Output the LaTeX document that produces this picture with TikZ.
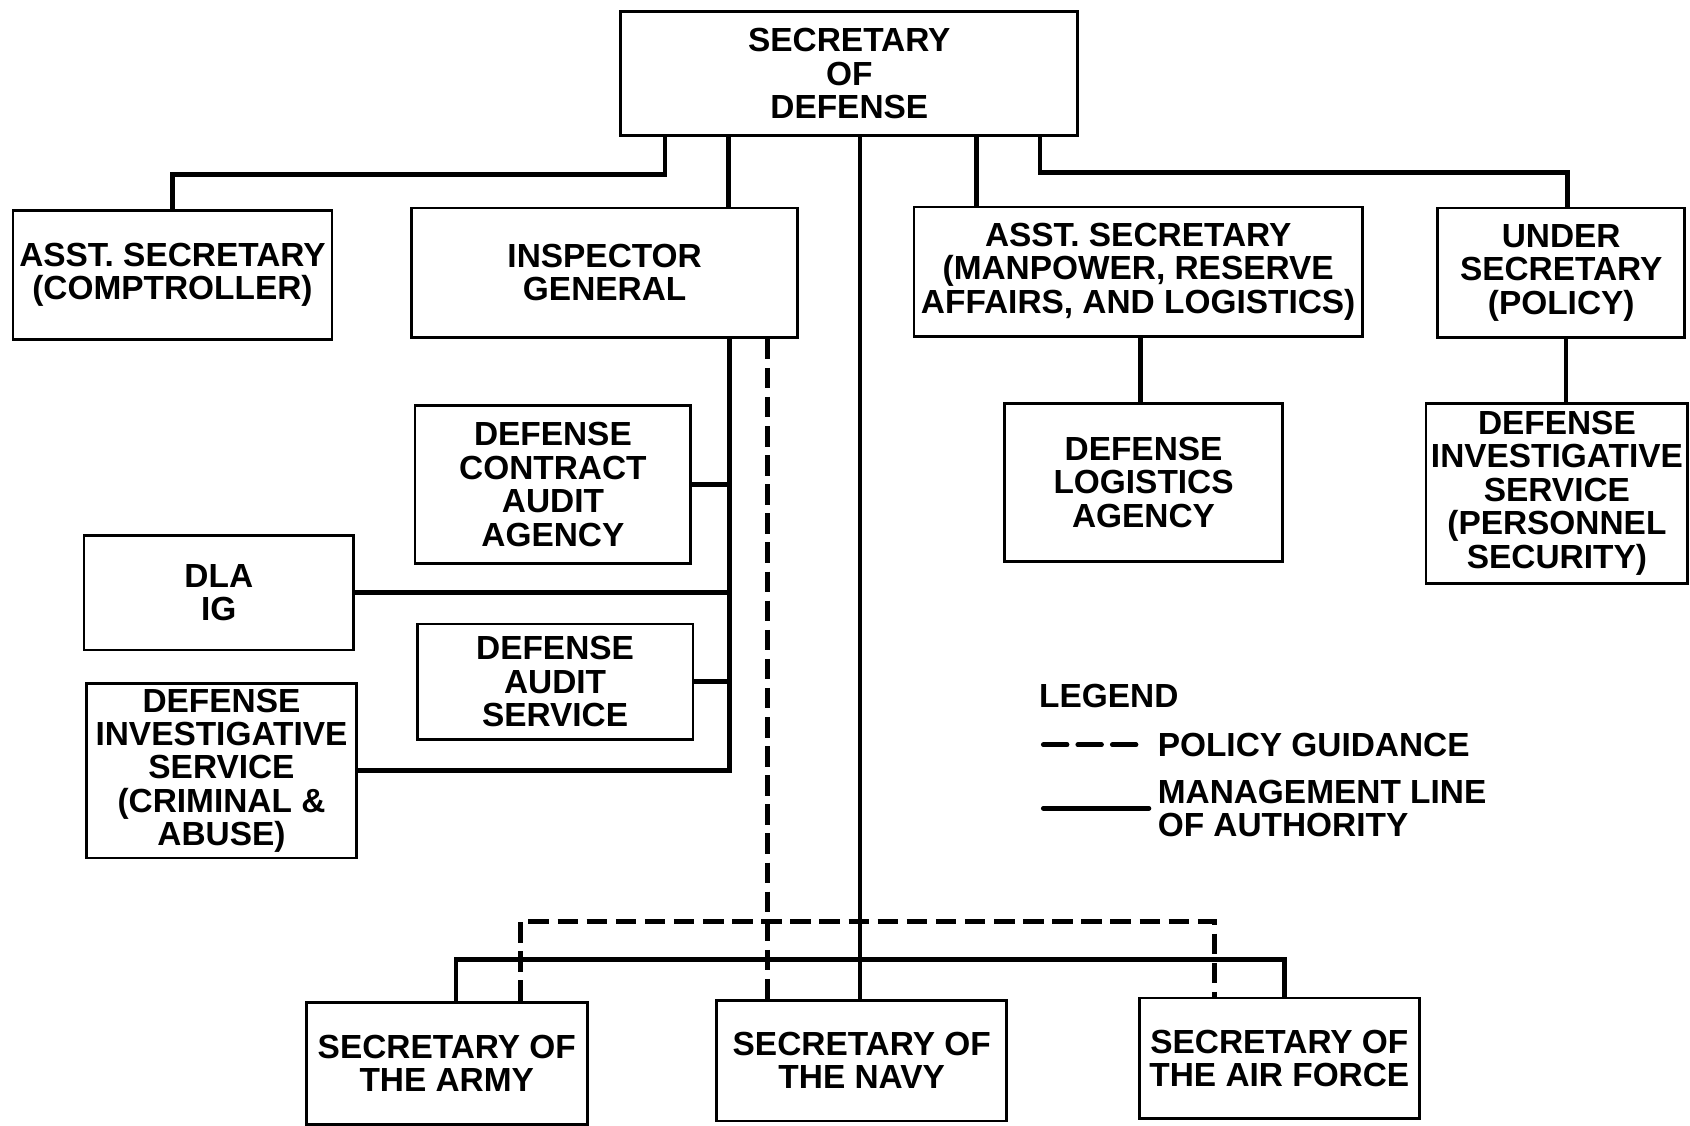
\documentclass[tikz,border=0pt]{standalone}
\usepackage{fontspec}
\setmainfont{Liberation Sans}
\begin{document}
\begin{tikzpicture}[x=1pt,y=-1pt,
  box/.style={draw, line width=2.6pt, inner sep=0pt, align=center, rectangle,
    font=\fontsize{31}{31}\selectfont\bfseries},
  mgmt/.style={line width=4.4pt},
  policy/.style={line width=4.4pt, dash pattern=on 19pt off 8pt},
  legtext/.style={inner sep=0pt, align=left, font=\fontsize{31}{31}\selectfont\bfseries}]
\useasboundingbox (0,0) rectangle (1568,1044);

% boxes
\node[box, minimum width=424pt, minimum height=115pt] (sd) at (788,68.5) {SECRETARY\\OF\\DEFENSE};
\node[box, minimum width=296pt, minimum height=120pt] (comp) at (160,255) {ASST. SECRETARY\\(COMPTROLLER)};
\node[box, minimum width=358pt, minimum height=120pt] (ig) at (561,253) {INSPECTOR\\GENERAL};
\node[box, minimum width=416pt, minimum height=120pt] (mral) at (1056,252) {ASST. SECRETARY\\(MANPOWER, RESERVE\\AFFAIRS, AND LOGISTICS)};
\node[box, minimum width=229pt, minimum height=120pt] (usec) at (1448.5,253) {UNDER\\SECRETARY\\(POLICY)};
\node[box, minimum width=256pt, minimum height=147pt] (dcaa) at (513,449.5) {DEFENSE\\CONTRACT\\AUDIT\\AGENCY};
\node[box, minimum width=250pt, minimum height=106pt] (dlaig) at (203,550) {DLA\\IG};
\node[box, minimum width=256pt, minimum height=107pt] (das) at (515,632.5) {DEFENSE\\AUDIT\\SERVICE};
\node[box, minimum width=251pt, minimum height=162pt] (disc) at (205.5,715) {DEFENSE\\INVESTIGATIVE\\SERVICE\\(CRIMINAL \&\\ABUSE)};
\node[box, minimum width=258pt, minimum height=147pt] (dla) at (1061,447.5) {DEFENSE\\LOGISTICS\\AGENCY};
\node[box, minimum width=243pt, minimum height=167pt] (disp) at (1444.5,457.5) {DEFENSE\\INVESTIGATIVE\\SERVICE\\(PERSONNEL\\SECURITY)};
\node[box, minimum width=261pt, minimum height=113pt] (army) at (414.5,986.5) {SECRETARY OF\\THE ARMY};
\node[box, minimum width=269pt, minimum height=112pt] (navy) at (799.5,984) {SECRETARY OF\\THE NAVY};
\node[box, minimum width=260pt, minimum height=112pt] (af) at (1187,982) {SECRETARY OF\\THE AIR FORCE};

% management lines from Secretary of Defense
\draw[mgmt] (617,0 |- sd.south) -- (617,162) -| (comp.north);
\draw[mgmt] (676,0 |- sd.south) -- (676,0 |- ig.north);
\draw[mgmt] (798,0 |- sd.south) -- (798,0 |- navy.north);
\draw[mgmt] (906,0 |- sd.south) -- (906,0 |- mral.north);
\draw[mgmt] (965,0 |- sd.south) -- (965,160) -- (1454,160) -- (1454,0 |- usec.north);

% inspector general subordinates
\draw[mgmt] (677,0 |- ig.south) |- (disc.east);
\draw[mgmt] (dcaa.east) -- (677,0 |- dcaa.east);
\draw[mgmt] (dlaig.east) -- (677,0 |- dlaig.east);
\draw[mgmt] (das.east) -- (677,0 |- das.east);

% other subordinates
\draw[mgmt] (1058,0 |- mral.south) -- (1058,0 |- dla.north);
\draw[mgmt] (1453,0 |- usec.south) -- (1453,0 |- disp.north);

% military departments
\draw[mgmt] (423,0 |- army.north) -- (423,890) -- (1192,890) -- (1192,0 |- af.north);
\draw[policy] (712,0 |- ig.south) -- (712,0 |- navy.north);
\draw[policy] (483,0 |- army.north) -- (483,855) -- (1127,855) -- (1127,0 |- af.north);

% legend
\node[legtext, anchor=west] (leg) at (964,646) {LEGEND};
\node[legtext, anchor=west] (pg) at (1074,691) {POLICY GUIDANCE};
\node[legtext, anchor=west] (ml) at (1074,750) {MANAGEMENT LINE\\OF AUTHORITY};
\draw[policy, line cap=round, dash pattern=on 22pt off 10pt] (968,0 |- pg.west) -- ([xshift=-10pt]pg.west);
\draw[mgmt, line cap=round] (968,0 |- ml.west) -- ([xshift=-8pt]ml.west);
\end{tikzpicture}
\end{document}
